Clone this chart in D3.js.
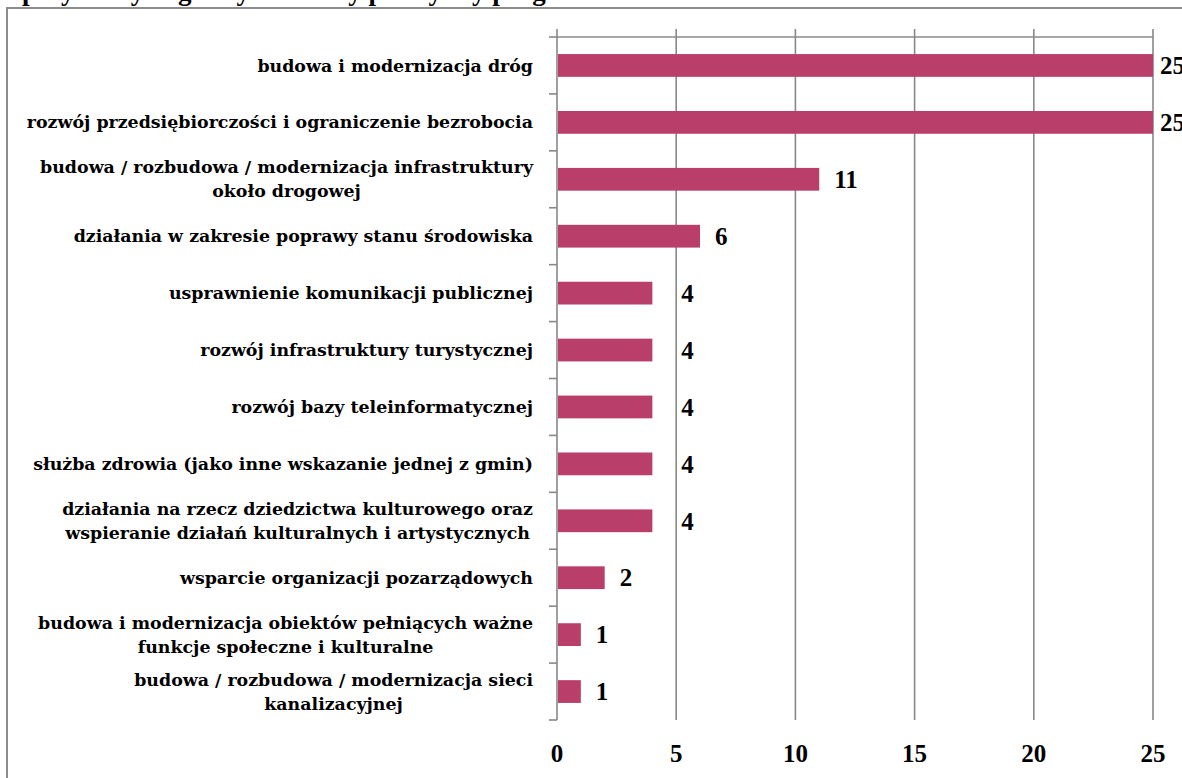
<!DOCTYPE html>
<html><head><meta charset="utf-8">
<script src="https://cdn.jsdelivr.net/npm/d3@7"></script>
<style>
body{margin:0;background:#fff;overflow:hidden}
text{font-family:"Liberation Serif","Times New Roman",serif;font-weight:bold;fill:#000}
text.cat{font-family:"DejaVu Serif",serif}
</style>
</head><body>
<svg id="chart" width="1182" height="778"></svg>
<script>
const titleText = "przy których gminy wskazały priorytety programowe";
const categories = [
  "budowa i modernizacja dróg",
  "rozwój przedsiębiorczości i ograniczenie bezrobocia",
  "budowa / rozbudowa / modernizacja infrastruktury\nokoło drogowej",
  "działania w zakresie poprawy stanu środowiska",
  "usprawnienie komunikacji publicznej",
  "rozwój infrastruktury turystycznej",
  "rozwój bazy teleinformatycznej",
  "służba zdrowia (jako inne wskazanie jednej z gmin)",
  "działania na rzecz dziedzictwa kulturowego oraz\nwspieranie działań kulturalnych i artystycznych",
  "wsparcie organizacji pozarządowych",
  "budowa i modernizacja obiektów pełniących ważne\nfunkcje społeczne i kulturalne",
  "budowa / rozbudowa  / modernizacja sieci\nkanalizacyjnej"
];
const values = [25, 25, 11, 6, 4, 4, 4, 4, 4, 2, 1, 1];
const xTicks = [0, 5, 10, 15, 20, 25];

const W = 1182;
const svg = d3.select("#chart");
const gridColor = "#888888";
const barColor = "#BA3E6A";

// outer frame
svg.append("path").attr("d","M7,778 L7,8 L1182,8").attr("fill","none")
  .attr("stroke","#8c8c8c").attr("stroke-width",2);

// cut-off title (only descenders visible, as in the reference)
svg.append("text").attr("x",22).attr("y",0).attr("font-size",27).text(titleText);

const x = d3.scaleLinear().domain([0,25]).range([557,1153]);
const y = d3.scaleBand().domain(categories).range([37,720]).paddingInner(0.6).paddingOuter(0.3);

// gridlines
svg.append("g").selectAll("line").data(xTicks.slice(1)).join("line")
  .attr("x1",d=>x(d)).attr("x2",d=>x(d)).attr("y1",29).attr("y2",720)
  .attr("stroke",gridColor).attr("stroke-width",1.6);

// top line
svg.append("line").attr("x1",x(0)).attr("x2",x(25)).attr("y1",37).attr("y2",37)
  .attr("stroke",gridColor).attr("stroke-width",1.6);

// left axis line
svg.append("line").attr("x1",x(0)).attr("x2",x(0)).attr("y1",29).attr("y2",720)
  .attr("stroke",gridColor).attr("stroke-width",1.6);

// category boundary ticks
const step = y.step();
const bounds = d3.range(categories.length+1).map(i => 37 + i*step);
svg.append("g").selectAll("line").data(bounds).join("line")
  .attr("x1",x(0)-8).attr("x2",x(0)).attr("y1",d=>d).attr("y2",d=>d)
  .attr("stroke",gridColor).attr("stroke-width",1.6);

// bars
svg.append("g").selectAll("rect").data(values).join("rect")
  .attr("x",x(0)+1).attr("y",(d,i)=>y(categories[i]))
  .attr("width",d=>x(d)-x(0)-1).attr("height",y.bandwidth())
  .attr("fill",barColor);

// value labels (nudged past a gridline if they would overlap it, pulled in at the right edge)
const gridXs = xTicks.slice(1).map(x);
svg.append("g").selectAll("text").data(values).join("text")
  .attr("y",(d,i)=>y(categories[i])+y.bandwidth()/2)
  .attr("dy","0.35em").attr("font-size",25).text(d=>d)
  .each(function(d){
    const t = d3.select(this);
    let lx = x(d) + 15;
    const w = this.getComputedTextLength();
    gridXs.forEach(gx => { if (gx > x(d) + 2 && lx < gx + 2 && lx + w > gx - 2) lx = gx + 5; });
    if (lx + w > W) lx = x(d) + 7;
    t.attr("x", lx);
  });

// category labels
const labelRight = 533;
const lineH = 24;
categories.forEach((c,i)=>{
  const lines = c.split("\n");
  const cy = y(c) + y.bandwidth()/2;
  const g = svg.append("g");
  const ts = lines.map((l,j)=> g.append("text").attr("class","cat").attr("font-size",17.4)
      .attr("y", cy + (j-(lines.length-1)/2)*lineH).attr("dy","0.35em").text(l));
  const widths = ts.map(t=>t.node().getComputedTextLength());
  const maxW = d3.max(widths);
  const center = labelRight - maxW/2;
  ts.forEach(t=>t.attr("x",center).attr("text-anchor","middle"));
});

// x tick labels
svg.append("g").selectAll("text").data(xTicks).join("text")
  .attr("x",d=>x(d)).attr("y",762).attr("text-anchor","middle").attr("font-size",25).text(d=>d);
</script>
</body></html>
